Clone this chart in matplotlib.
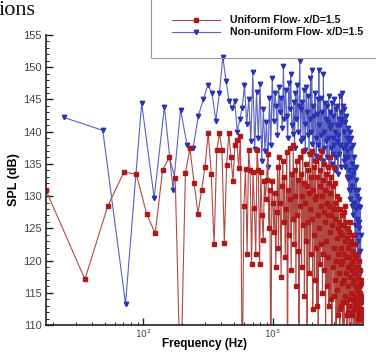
import numpy as np
import matplotlib
matplotlib.use('Agg')
import matplotlib.pyplot as plt
from matplotlib.lines import Line2D
from matplotlib.patches import Rectangle

# FFT bin widths (Hz) of the two runs
df_uniform = 17.6
df_nonuniform = 24.2

# SPL (dB) per bin, uniform flow x/D=1.5
spl_uniform = [
    130.9, 117.1, 128.4, 133.7, 133.4, 127.3, 124.2, 134.1, 136.0, 132.8,
    100.0, 133.6, 137.4, 132.0, 127.3, 130.9, 134.5, 139.8, 133.5, 122.5,
    137.2, 139.8, 137.2, 122.8, 134.8, 139.8, 136.0, 132.4, 138.0, 138.7,
    134.3, 139.4, 100.0, 128.5, 134.2, 121.0, 137.2, 134.0, 119.5, 133.8,
    128.2, 121.0, 137.2, 134.0, 119.5, 133.8, 127.0, 123.2, 132.4, 129.6,
    132.5, 136.5, 125.0, 131.0, 100.0, 132.4, 129.0, 124.5, 130.5, 119.0,
    127.5, 134.5, 122.0, 136.0, 129.0, 117.5, 131.5, 135.5, 126.0, 133.0,
    120.5, 128.0, 136.8, 100.0, 131.0, 124.0, 137.5, 129.5, 118.5, 133.5,
    126.5, 138.0, 122.5, 134.0, 130.0, 116.0, 135.5, 127.0, 132.5, 121.5,
    100.0, 136.0, 128.5, 133.5, 119.0, 130.0, 137.0, 125.5, 132.0, 114.5,
    129.0, 135.0, 123.0, 131.5, 100.0, 134.0, 126.0, 130.5, 118.0, 136.5,
    128.0, 121.0, 133.0, 126.5, 137.0, 112.5, 131.0, 124.0, 134.5, 117.0,
    129.5, 135.5, 122.0, 130.0, 113.0, 133.0, 127.0, 100.0, 136.0, 125.0,
    131.5, 119.5, 134.0, 128.5, 122.5, 137.0, 130.0, 115.0, 132.5, 121.0,
    127.5, 135.0, 118.5, 131.0, 126.0, 100.0, 133.5, 123.0, 129.0, 116.0,
    134.5, 127.0, 120.5, 132.0, 113.0, 128.5, 136.0, 124.5, 130.5, 114.0,
    127.0, 133.0, 100.0, 125.5, 131.5, 119.0, 128.0, 134.5, 122.0, 114.5,
    129.0, 117.0, 126.5, 132.0, 120.0, 100.0, 128.0, 123.5, 115.5, 130.0,
    125.0, 111.5, 121.0, 129.5, 118.0, 126.0, 112.5, 100.0, 124.5, 128.0,
    119.5, 122.0, 113.0, 127.0, 116.5, 124.0, 120.0, 113.5, 100.0, 125.5,
    121.0, 127.5, 117.0, 100.0, 123.0, 128.5, 114.5, 120.5, 113.5, 126.0,
    118.0, 123.5, 111.5, 100.0, 125.0, 119.0, 122.0, 112.0, 116.0, 124.5,
    120.5, 113.0, 100.0, 122.5, 117.5, 126.0, 114.0, 119.5, 115.0, 123.0,
    100.0, 118.5, 121.5, 112.0, 111.5, 120.0, 116.5, 124.0, 100.0, 118.0,
    114.0, 121.0, 112.5, 117.0, 122.5, 113.5, 100.0, 119.0, 116.0, 113.0,
    120.5, 114.5, 118.0, 100.0, 115.5, 121.0, 112.5, 111.0, 117.5, 119.0,
    113.0, 100.0, 116.0, 120.0, 111.5, 112.0, 117.0, 114.0, 118.5, 100.0,
    115.0, 112.0, 116.5, 111.5, 113.5, 117.0, 111.0, 114.5, 100.0, 112.5,
]

# SPL (dB) per bin, non-uniform flow x/D=1.5
spl_nonuniform = [
    142.2, 140.2, 113.3, 144.4, 129.7, 143.9, 131.0, 143.4, 137.9, 137.5,
    142.5, 145.0, 147.2, 146.0, 141.7, 146.0, 151.6, 147.8, 144.8, 143.6,
    144.7, 140.0, 142.0, 143.7, 147.2, 141.2, 145.1, 138.5, 149.2, 137.3,
    146.1, 139.0, 147.4, 135.5, 143.5, 137.0, 141.5, 134.5, 145.2, 138.0,
    148.4, 141.7, 146.0, 144.0, 139.5, 147.0, 143.0, 145.2, 140.5, 150.2,
    142.0, 146.5, 142.5, 139.0, 147.5, 143.5, 149.0, 141.0, 139.7, 144.6,
    137.5, 146.0, 142.0, 147.2, 140.0, 144.0, 151.0, 138.5, 143.5, 144.6,
    139.0, 146.5, 141.2, 137.1, 147.0, 143.0, 139.5, 145.5, 136.5, 142.0,
    148.4, 140.0, 149.6, 138.1, 144.0, 135.5, 142.5, 146.0, 139.0, 136.3,
    142.8, 145.0, 138.0, 149.5, 141.0, 137.0, 145.2, 139.5, 143.0, 135.5,
    135.5, 149.0, 140.0, 137.5, 144.5, 138.5, 142.0, 144.0, 136.0, 141.5,
    139.0, 145.5, 134.5, 140.5, 143.0, 137.5, 141.0, 135.0, 144.5, 139.0,
    136.5, 142.5, 138.0, 145.0, 134.0, 140.0, 143.5, 136.0, 141.0, 138.5,
    144.0, 133.5, 139.5, 142.0, 136.5, 145.5, 138.0, 141.0, 134.5, 143.0,
    141.5, 146.0, 142.0, 137.5, 144.0, 135.5, 140.0, 143.5, 136.0, 134.5,
    141.5, 138.0, 142.5, 133.0, 139.0, 137.0, 132.7, 140.5, 136.0, 131.0,
    138.5, 134.0, 140.0, 129.5, 130.9, 137.5, 133.0, 139.0, 128.5, 135.0,
    131.5, 138.0, 127.0, 133.5, 134.0, 129.0, 136.0, 125.5, 131.0, 100.0,
    134.5, 128.0, 132.5, 124.0, 130.0, 126.5, 100.0, 131.0, 123.0, 128.5,
    125.0, 129.5, 100.0, 126.0, 121.5, 128.3, 118.0, 124.0, 113.9, 116.0,
]

yticks = [110, 115, 120, 125, 130, 135, 140, 145, 150, 155]


def draw(outpath):
    f_u = df_uniform * np.arange(1, len(spl_uniform) + 1)
    f_n = df_nonuniform * np.arange(1, len(spl_nonuniform) + 1)

    fig = plt.figure(figsize=(3.76, 3.52), dpi=100)
    ax = fig.add_axes([46 / 376, 1 - 325 / 352, 317 / 376, 290 / 352])

    ax.plot(f_n, spl_nonuniform, color='#5a62c2', lw=0.8, marker='v', ms=3.2,
            mfc='#2a32b4', mec='#2a32b4')
    ax.plot(f_u, spl_uniform, color='#b04a44', lw=0.8, marker='s', ms=2.6,
            mfc='#b01818', mec='#b01818')

    ax.set_xscale('log')
    ax.set_xlim(17.6, 5000)
    ax.set_ylim(110, 155)
    ax.set_yticks(yticks)
    ax.yaxis.set_minor_locator(matplotlib.ticker.MultipleLocator(1))
    for s in ['top', 'right']:
        ax.spines[s].set_visible(False)
    for s in ['left', 'bottom']:
        ax.spines[s].set_linewidth(1.2)
        ax.spines[s].set_color('#222222')
    ax.tick_params(which='both', direction='in', colors='#222222', labelcolor='#444444')
    ax.tick_params(which='major', length=5, width=1.0)
    ax.tick_params(which='minor', length=2.5, width=0.7)
    ax.tick_params(axis='y', labelsize=8, pad=3)
    ax.tick_params(axis='x', labelsize=6.5, pad=2)

    ax.set_xlabel('Frequency (Hz)', fontsize=8.5, fontweight='bold',
                  family='Liberation Sans', labelpad=-1.5)
    ax.set_ylabel('SPL (dB)', fontsize=9, fontweight='bold',
                  family='Liberation Sans', labelpad=2)
    for lab in ax.get_yticklabels():
        lab.set_family('Liberation Sans')

    # legend box (cut off at the top of the picture)
    fig.add_artist(Rectangle((151 / 376, 1 - 58 / 352), 0.7, 0.3,
                             transform=fig.transFigure, fill=False,
                             ec='#999999', lw=0.8))
    rows = [(20, 'Uniform Flow- x/D=1.5', '#b04a44', 's', '#b01818', 2.6),
            (32, 'Non-uniform Flow- x/D=1.5', '#5a62c2', 'v', '#2a32b4', 3.2)]
    for y, txt, lc, mk, mc, ms in rows:
        yy = 1 - y / 352
        fig.add_artist(Line2D([172 / 376, 220 / 376], [yy, yy],
                              transform=fig.transFigure, color=lc, lw=0.8))
        fig.add_artist(Line2D([196 / 376], [yy], transform=fig.transFigure,
                              marker=mk, ms=ms, mfc=mc, mec=mc, lw=0))
        fig.text(230 / 376, yy, txt, fontsize=7.6, fontweight='bold',
                 family='Liberation Sans', va='center', ha='left', color='#111111')

    # leftover caption text from the page above
    fig.text(-0.003, 1 - 15 / 352, 'ions', fontsize=16, family='Liberation Serif',
             va='baseline', ha='left', color='#111111')

    fig.savefig(outpath, dpi=100)


def main():
    draw('out.png')


if __name__ == '__main__':
    main()
